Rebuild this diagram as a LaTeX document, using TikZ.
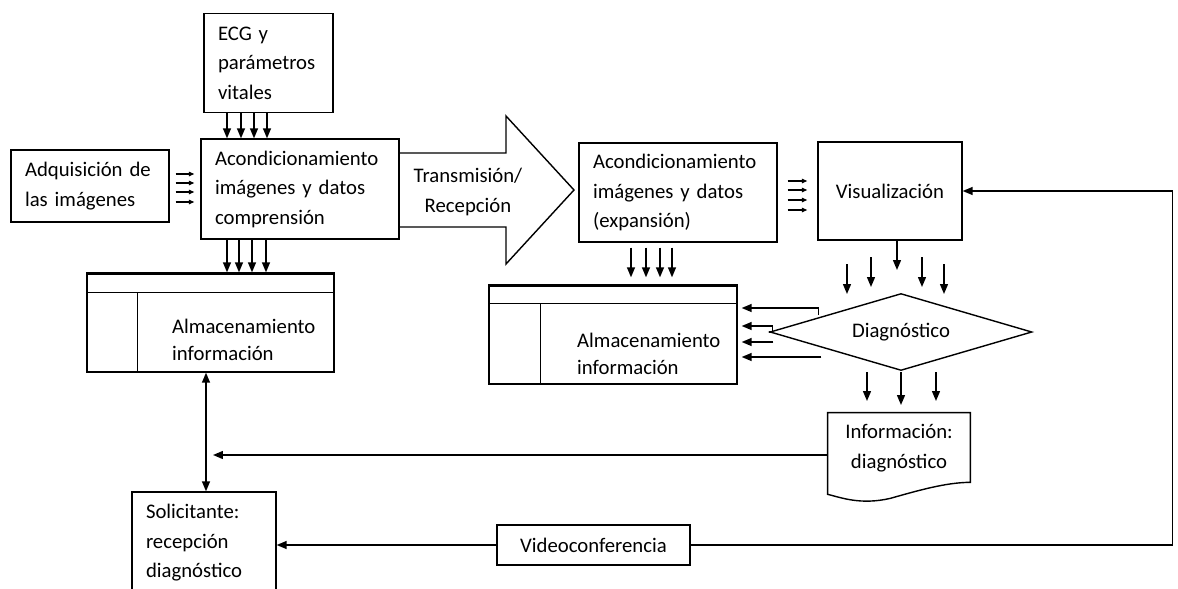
\documentclass[tikz,border=0pt]{standalone}
\usepackage{fontspec}
\setmainfont{Carlito}
\usetikzlibrary{arrows.meta,calc,shapes.geometric}
\tikzset{
  txt/.style={font=\fontsize{11.8}{16.8}\selectfont},
  box/.style={draw, line width=0.8pt, inner sep=0pt, txt},
  lbox/.style={box, align=left, inner xsep=0.28cm},
  cbox/.style={box, align=center},
  arr/.style={line width=0.8pt, -{Triangle[length=0.2cm,width=0.16cm]}},
  sarr/.style={line width=0.7pt, -{Triangle[length=0.11cm,width=0.09cm]}},
  ln/.style={line width=0.8pt},
}
\begin{document}
\begin{tikzpicture}[x=0.02cm,y=-0.02cm]
\useasboundingbox (0,0) rectangle (1178,589);
% boxes
\node[lbox, minimum width=2.58cm, minimum height=1.98cm, text width=2.02cm] (ecg) at (268.5,63) {ECG y\\parámetros\\vitales};
\node[lbox, minimum width=3.96cm, minimum height=2.0cm, text width=3.40cm] (acond1) at (300,189) {Acondicionamiento\\imágenes y datos\\comprensión};
\node[lbox, minimum width=3.16cm, minimum height=1.44cm, text width=2.60cm] (adq) at (90,186) {Adquisición de\\las imágenes};
\node[lbox, minimum width=3.96cm, minimum height=1.98cm, text width=3.40cm] (acond2) at (678,192.5) {Acondicionamiento\\imágenes y datos\\(expansión)};
\node[cbox, minimum width=2.88cm, minimum height=1.96cm] (vis) at (890,191) {Visualización};
\node[lbox, minimum width=2.88cm, minimum height=2.04cm, text width=2.32cm] (sol) at (204,543) {Solicitante:\\recepción\\diagnóstico};
\node[cbox, minimum width=3.86cm, minimum height=0.8cm] (video) at (593.5,545) {Videoconferencia};
% storage 1
\node[draw, ln, minimum width=4.94cm, minimum height=1.96cm, inner sep=0pt] (stor1) at (210.5,323) {};
\draw[line width=1.7pt] (stor1.north west) -- (stor1.north east);
\draw[ln] ($(stor1.north west)+(0,19)$) -- ($(stor1.north east)+(0,19)$);
\draw[ln] ($(stor1.north west)+(51,19)$) -- ($(stor1.south west)+(51,0)$);
\node[txt, anchor=west, align=left, font=\fontsize{11.8}{15pt}\selectfont] (st1txt) at (166,340) {Almacenamiento\\información};
% storage 2
\node[draw, ln, minimum width=4.96cm, minimum height=1.96cm, inner sep=0pt] (stor2) at (613,335) {};
\draw[line width=1.7pt] (stor2.north west) -- (stor2.north east);
\draw[ln] ($(stor2.north west)+(0,18)$) -- ($(stor2.north east)+(0,18)$);
\draw[ln] ($(stor2.north west)+(52,18)$) -- ($(stor2.south west)+(52,0)$);
\node[txt, anchor=west, align=left, font=\fontsize{11.8}{15.4pt}\selectfont] (st2txt) at (571,353.5) {Almacenamiento\\información};
% diamond
\node[draw, ln, diamond, aspect=3.4, minimum width=5.24cm, minimum height=1.54cm, inner sep=0pt, txt] (diag) at (901,332) {Diagnóstico};
% document
\node[minimum width=2.84cm, minimum height=1.4cm, inner sep=0pt, txt, align=center] (info) at (899,448) {Información:\\diagnóstico};
\draw[ln] ($(info.south west)+(0,-6)$) -- (info.north west) -- (info.north east) -- ($(info.south east)+(0,-1)$)
  .. controls ($(info.south east)+(-25,-1)$) and ($(info.south east)+(-55,8)$) .. ($(info.south east)+(-80,15)$)
  .. controls ($(info.south east)+(-110,22)$) and ($(info.south east)+(-130,14)$) .. ($(info.south west)+(0,11)$)
  -- ($(info.south west)+(0,-6)$);
% big arrow
\coordinate (tip) at (574,190);
\draw[ln] (acond1.east |- 0,153) -- (506,153) -- (506,116) -- (tip) -- (506,264) -- (506,227) -- (acond1.east |- 0,227);
\node[txt, align=center] (trans) at (468,192) {Transmisión/\\Recepción};
% arrows ECG -> acond1
\foreach \x in {227,241,254,267}
  \draw[arr] (\x,0 |- ecg.south) -- (\x,0 |- acond1.north);
% arrows adq -> acond1
\foreach \y in {174,183,192,202}
  \draw[sarr] ($(adq.east |- 0,\y)+(6,0)$) -- ($(acond1.west |- 0,\y)+(-6,0)$);
% acond1 -> storage1
\foreach \x in {227,239,252,266}
  \draw[arr] (\x,0 |- acond1.south) -- ($(\x,0 |- stor1.north)+(0,-1)$);
% acond2 -> vis
\foreach \y in {181,190,200,210}
  \draw[sarr] ($(acond2.east |- 0,\y)+(10,0)$) -- ($(vis.west |- 0,\y)+(-10,0)$);
% acond2 -> storage2
\foreach \x in {631,646,660,672}
  \draw[arr] ($(\x,0 |- acond2.south)+(0,5)$) -- ($(\x,0 |- stor2.north)+(0,-8)$);
% vis -> diag
\draw[arr] (vis.south -| 897,0) -- (897,270);
\foreach \x/\a/\b in {847/264/294, 871/257/287, 922/257/287, 944/264/294}
  \draw[arr] (\x,\a) -- (\x,\b);
% diag -> storage2
\draw[arr] ($(diag.west)+(49,-17)$) -- ($(diag.west)+(49,-24)$) -- ($(stor2.east |- 0,308)+(4,0)$);
\draw[arr] (diag.west) -- ++(3,0) -- ++(0,-6) -- ($(stor2.east |- 0,326)+(4,0)$);
\draw[arr] ($(diag.west)+(4,10)$) -- ($(stor2.east |- 0,342)+(4,0)$);
\draw[arr] ($(diag.west)+(52,25)$) -- ($(stor2.east |- 0,357)+(4,0)$);
% diag -> info
\foreach \dx/\e in {-34/401, 0/405, 35/401}
  \draw[arr] ($(diag.south)+(\dx,1)$) -- ($(diag.south |- 0,\e)+(\dx,0)$);
% info -> double arrow
\draw[arr] (info.west |- 0,455) -- (213,455);
% storage1 <-> sol
\draw[ln, {Triangle[length=0.2cm,width=0.16cm]}-{Triangle[length=0.2cm,width=0.16cm]}] (206,0 |- stor1.south) -- (206,0 |- sol.north);
% video -> sol
\draw[arr] (video.west) -- (sol.east |- video.west);
% video -> vis
\draw[arr] (video.east) -| ($(vis.east)+(210,0)$) -- (vis.east);
\end{tikzpicture}
\end{document}
